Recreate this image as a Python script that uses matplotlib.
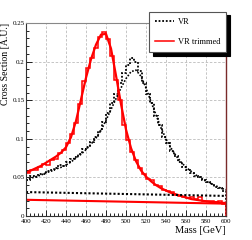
import numpy as np
import matplotlib
matplotlib.use('Agg')
import matplotlib.pyplot as plt
from matplotlib.ticker import MultipleLocator

# bin edges of the histograms (4 GeV bins)
edges = np.arange(400, 601, 4)

# VR histogram
vr_hist = [0.047, 0.052, 0.050, 0.055, 0.054, 0.058, 0.060, 0.062, 0.066, 0.065,
           0.070, 0.074, 0.077, 0.080, 0.087, 0.090, 0.096, 0.103, 0.110, 0.122,
           0.134, 0.146, 0.158, 0.172, 0.185, 0.196, 0.205, 0.200, 0.188, 0.172,
           0.158, 0.146, 0.130, 0.118, 0.103, 0.094, 0.084, 0.078, 0.070, 0.064,
           0.060, 0.056, 0.052, 0.050, 0.047, 0.044, 0.042, 0.038, 0.036, 0.033]

# VR trimmed histogram
trim_hist = [0.056, 0.060, 0.059, 0.063, 0.068, 0.066, 0.072, 0.074, 0.082, 0.086,
             0.094, 0.106, 0.120, 0.145, 0.175, 0.192, 0.205, 0.218, 0.232, 0.238,
             0.229, 0.207, 0.176, 0.150, 0.118, 0.098, 0.083, 0.072, 0.062, 0.055,
             0.048, 0.046, 0.040, 0.039, 0.034, 0.032, 0.031, 0.027, 0.026, 0.025,
             0.023, 0.024, 0.022, 0.024, 0.020, 0.019, 0.020, 0.018, 0.019, 0.016]

# fit curves
fit_mass = np.arange(400, 601, 5)
vr_fit = [0.046, 0.049, 0.051, 0.053, 0.056, 0.058, 0.061, 0.063, 0.066, 0.070,
          0.075, 0.080, 0.086, 0.093, 0.101, 0.111, 0.124, 0.138, 0.152, 0.166,
          0.178, 0.187, 0.189, 0.181, 0.166, 0.148, 0.131, 0.114, 0.100, 0.088,
          0.078, 0.070, 0.063, 0.058, 0.053, 0.049, 0.045, 0.042, 0.039, 0.036, 0.034]
trim_fit = [0.056, 0.059, 0.062, 0.065, 0.069, 0.073, 0.077, 0.082, 0.089, 0.102,
            0.123, 0.151, 0.179, 0.203, 0.222, 0.235, 0.236, 0.217, 0.182, 0.145,
            0.112, 0.088, 0.071, 0.059, 0.051, 0.045, 0.040, 0.036, 0.033, 0.030,
            0.028, 0.026, 0.024, 0.022, 0.021, 0.020, 0.019, 0.018, 0.018, 0.017, 0.017]

# background components
bkg_mass = [400, 600]
vr_bkg = [0.031, 0.026]
trim_bkg = [0.021, 0.016]

plt.rcParams['font.family'] = ['Liberation Serif', 'DejaVu Serif']

fig = plt.figure(figsize=(2.52, 2.40), dpi=100)
ax = fig.add_axes([0.103, 0.1, 0.794, 0.804])

# histograms
ax.stairs(vr_hist, edges, color='black', linestyle=(0, (1, 1)), linewidth=1.3, label='VR')
ax.stairs(trim_hist, edges, color='red', linewidth=1.1, label='VR trimmed')
# fits
ax.plot(fit_mass, vr_fit, color='black', linestyle=(0, (1, 1)), linewidth=1.2)
ax.plot(fit_mass, trim_fit, color='red', linewidth=1.6)
# backgrounds
ax.plot(bkg_mass, vr_bkg, color='black', linestyle=(0, (1, 1)), linewidth=1.5)
ax.plot(bkg_mass, trim_bkg, color='red', linewidth=1.5)

ax.set_xlim(400, 600)
ax.set_ylim(0, 0.25)
ax.xaxis.set_major_locator(MultipleLocator(20))
ax.xaxis.set_minor_locator(MultipleLocator(4))
ax.yaxis.set_minor_locator(MultipleLocator(0.01))
ax.set_yticks([0, 0.05, 0.1, 0.15, 0.2, 0.25])
ax.set_yticklabels(['0', '0.05', '0.1', '0.15', '0.2', '0.25'])
ax.tick_params(which='both', direction='in', labelsize=5, width=0.6)
ax.tick_params(axis='y', pad=1)
ax.tick_params(axis='x', pad=2.5)
ax.tick_params(which='major', length=4)
ax.tick_params(which='minor', length=2)
ax.tick_params(axis='y', which='both', right=False)
ax.tick_params(axis='x', which='both', top=False)

ax.grid(True, which='major', linestyle=(0, (3, 2)), color='#bbbbbb', linewidth=0.6)
ax.set_axisbelow(True)

for side in ['left', 'bottom']:
    ax.spines[side].set_color('#333333')
    ax.spines[side].set_linewidth(0.8)
ax.spines['top'].set_color('#888888')
ax.spines['top'].set_linewidth(0.8)
ax.spines['right'].set_color('#7a2a2a')
ax.spines['right'].set_linewidth(1.0)

ax.set_ylabel('Cross Section [A.U.]', fontsize=7, loc='top', labelpad=2)
ax.set_xlabel('Mass [GeV]', fontsize=7.5, loc='right', labelpad=1)

leg = ax.legend(loc='upper right', bbox_to_anchor=(0.897, 0.95), bbox_transform=fig.transFigure,
                fontsize=6, frameon=True, fancybox=False, borderaxespad=0,
                labelspacing=1.5, handlelength=2.2, handletextpad=0.5, borderpad=0.7,
                shadow={'color': 'black', 'alpha': 1.0, 'ox': 2.5, 'oy': -2.5})
leg.get_frame().set_edgecolor('#555555')
leg.get_frame().set_linewidth(0.8)
leg.get_frame().set_alpha(1)

plt.savefig('out.png', dpi=100)
